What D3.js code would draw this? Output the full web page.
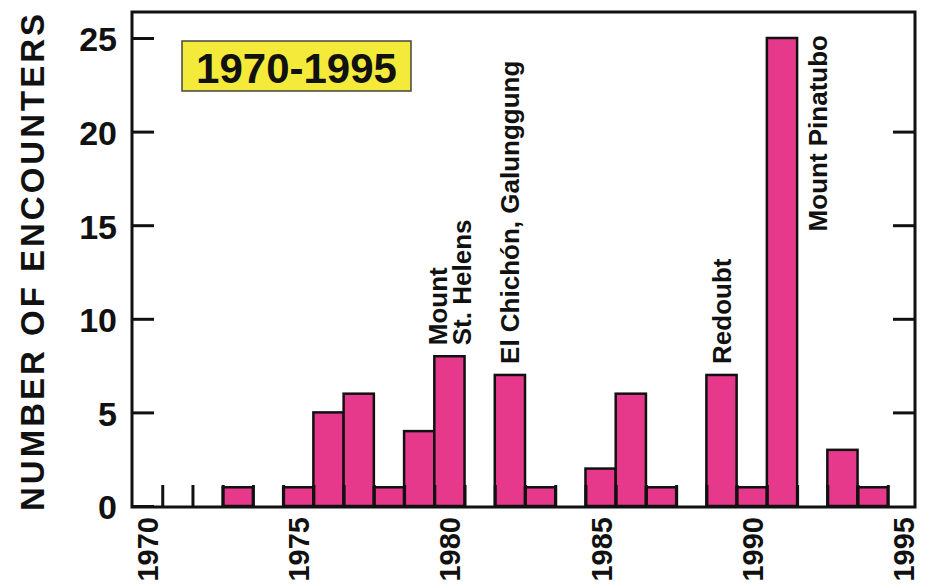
<!DOCTYPE html>
<html>
<head>
<meta charset="utf-8">
<script src="https://cdn.jsdelivr.net/npm/d3@7"></script>
<style>
  html, body { margin: 0; padding: 0; background: #fff; }
  svg { display: block; font-family: "Liberation Sans", Arial, Helvetica, sans-serif; }
</style>
</head>
<body>
<svg id="chart" width="926" height="585"></svg>
<script>
// ---- data ----
const years = [1970, 1971, 1972, 1973, 1974, 1975, 1976, 1977, 1978, 1979, 1980, 1981,
               1982, 1983, 1984, 1985, 1986, 1987, 1988, 1989, 1990, 1991, 1992, 1993, 1994];
const encounters = [0, 0, 0, 1, 0, 1, 5, 6, 1, 4, 8, 0,
                    7, 1, 0, 2, 6, 1, 0, 7, 1, 25, 0, 3, 1];
const yTickValues = [0, 5, 10, 15, 20, 25];
const xLabelYears = [1970, 1975, 1980, 1985, 1990, 1995];
const yTitle = "NUMBER OF ENCOUNTERS";
const periodLabel = "1970-1995";
const annotationYears = [1980, 1982, 1989, 1991];
const annotationLines = [["Mount", "St. Helens"], ["El Chichón, Galunggung"], ["Redoubt"], ["Mount Pinatubo"]];
const annotationBeside = [false, false, false, true];

// ---- layout ----
const svg = d3.select("#chart");
const pLeft = 132, pRight = 915, pTop = 12, pBottom = 507;
const x = d3.scaleLinear().domain([1970, 1995.9]).range([pLeft, pRight]);
const y = d3.scaleLinear().domain([0, 25]).range([506, 38]);
const pink = "#e6398b";

// bars
const data = years.map((yr, i) => ({ year: yr, value: encounters[i] }));
svg.append("g").selectAll("rect")
  .data(data.filter(d => d.value > 0))
  .join("rect")
  .attr("x", d => x(d.year))
  .attr("width", d => x(d.year + 1) - x(d.year))
  .attr("y", d => y(d.value))
  .attr("height", d => y(0) - y(d.value))
  .attr("fill", pink)
  .attr("stroke", "#111")
  .attr("stroke-width", 2.5);

// bottom year ticks (inward)
const yearTicks = d3.range(1971, 1996);
const gxTicks = svg.append("g")
  .attr("transform", `translate(0,${pBottom})`)
  .call(d3.axisBottom(x).tickValues(yearTicks).tickSize(-22).tickFormat(""));
gxTicks.select(".domain").remove();
gxTicks.selectAll("line").attr("stroke", "#111").attr("stroke-width", 3);

// bottom labels (centered in the year slot, rotated)
const gxLab = svg.append("g")
  .attr("transform", `translate(0,${pBottom})`)
  .call(d3.axisBottom(x).tickValues(xLabelYears.map(v => v + 0.5))
    .tickSize(0).tickFormat(d => String(Math.floor(d))));
gxLab.select(".domain").remove();
gxLab.selectAll("text")
  .attr("transform", "rotate(-90)")
  .attr("x", -10).attr("y", 0).attr("dy", "0.36em")
  .attr("text-anchor", "end")
  .attr("fill", "#111")
  .style("font-size", "29px").style("font-weight", "bold")
  .style("font-family", "'Liberation Sans', Arial, sans-serif");

// left axis
const gy = svg.append("g")
  .attr("transform", `translate(${pLeft},0)`)
  .call(d3.axisLeft(y).tickValues(yTickValues).tickSize(-22).tickPadding(15));
gy.select(".domain").remove();
gy.selectAll("line").attr("stroke", "#111").attr("stroke-width", 3);
gy.selectAll("text")
  .attr("fill", "#111")
  .attr("dy", "0.38em")
  .style("font-size", "34px").style("font-weight", "bold")
  .style("font-family", "'Liberation Sans', Arial, sans-serif");

// right axis ticks
const gyr = svg.append("g")
  .attr("transform", `translate(${pRight},0)`)
  .call(d3.axisRight(y).tickValues([5, 10, 15, 20]).tickSize(-22).tickFormat(""));
gyr.select(".domain").remove();
gyr.selectAll("line").attr("stroke", "#111").attr("stroke-width", 3);

// frame
svg.append("rect")
  .attr("x", pLeft).attr("y", pTop)
  .attr("width", pRight - pLeft).attr("height", pBottom - pTop)
  .attr("fill", "none").attr("stroke", "#111").attr("stroke-width", 3);

// y title
svg.append("text")
  .attr("transform", `translate(44,${(10 + 512) / 2}) rotate(-90)`)
  .attr("text-anchor", "middle")
  .attr("fill", "#111")
  .style("font-size", "33px").style("font-weight", "bold")
  .style("letter-spacing", "3px")
  .text(yTitle);

// period box
const bx = 182, by = 41, bw = 229, bh = 50;
svg.append("rect")
  .attr("x", bx).attr("y", by).attr("width", bw).attr("height", bh)
  .attr("fill", "#f4ea3a").attr("stroke", "#444").attr("stroke-width", 1.5);
svg.append("text")
  .attr("x", bx + bw / 2).attr("y", by + 42)
  .attr("text-anchor", "middle")
  .attr("fill", "#111")
  .style("font-size", "42px").style("font-weight", "bold")
  .text(periodLabel);

// annotations
const fs = 26, lineGap = 24, cap = fs * 0.72;
annotationYears.forEach((yr, i) => {
  const v = encounters[years.indexOf(yr)];
  const lines = annotationLines[i];
  let cx, anchor, ay;
  if (annotationBeside[i]) {
    cx = x(yr + 1.5) + 5;
    anchor = "end";
    ay = y(v) - 3;
  } else {
    cx = x(yr + 0.5);
    anchor = "start";
    ay = y(v) - 11;
  }
  const n = lines.length;
  lines.forEach((ln, j) => {
    const bxl = cx + cap / 2 + (j - (n - 1) / 2) * lineGap;
    svg.append("text")
      .attr("transform", `translate(${bxl},${ay}) rotate(-90)`)
      .attr("text-anchor", anchor)
      .attr("fill", "#111")
      .style("font-size", fs + "px").style("font-weight", "bold")
      .text(ln);
  });
});
</script>
</body>
</html>
